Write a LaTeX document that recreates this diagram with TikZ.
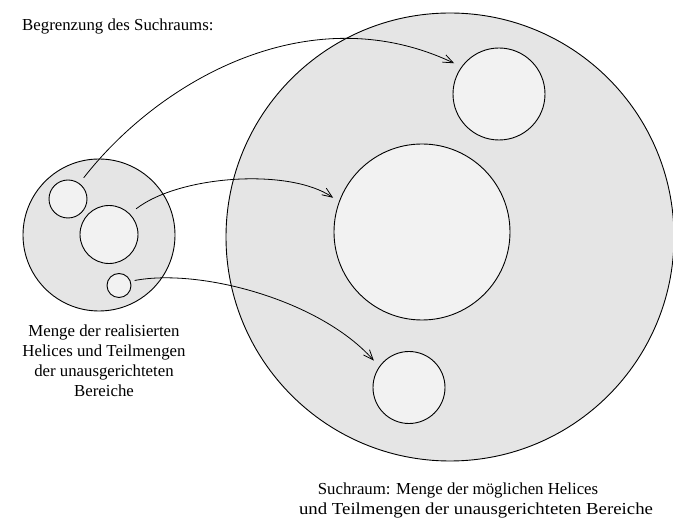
\documentclass[tikz,border=0pt]{standalone}
\usepackage{fontspec}
\setmainfont{Liberation Serif}
\usetikzlibrary{arrows.meta}

\begin{document}
\begin{tikzpicture}[x=1pt,y=-1pt,
  region/.style={circle,draw,line width=0.9pt,fill=gray!20,inner sep=0pt},
  subset/.style={circle,draw,line width=0.9pt,fill=gray!10,inner sep=0pt},
  lbl/.style={inner sep=0pt,font=\fontsize{16.8}{20}\selectfont},
  conn/.style={line width=0.8pt,-{Straight Barb[length=10pt,width=8pt]}}]
\useasboundingbox (0,0) rectangle (673,518);

% search space and its bounded parts
\node[region,minimum size=448pt] (space) at (450,237) {};
\node[subset,minimum size=92pt]  (t1) at (499,94) {};
\node[subset,minimum size=176pt] (t2) at (422,232) {};
\node[subset,minimum size=72pt]  (t3) at (409,387.5) {};

% realised helices and subsets
\node[region,minimum size=152pt] (set) at (99,235) {};
\node[subset,minimum size=38pt] (a) at (68,199) {};
\node[subset,minimum size=58pt] (b) at (109,234.5) {};
\node[subset,minimum size=24pt] (c) at (119,285.5) {};

% labels (base of a multi-line node is its last line)
\node[lbl,anchor=base west] (title) at (22,31) {Begrenzung des Suchraums:};
\node[lbl,anchor=base,align=center] (setlbl) at (104,397)
  {Menge der realisierten\\Helices und Teilmengen\\der unausgerichteten\\Bereiche};
\node[lbl,anchor=base] (spacelbl1) at (458,495) {Suchraum: Menge der möglichen Helices};
\node[lbl,anchor=base] (spacelbl2) at (476,515)
  {\scalebox{1.12}[1]{und Teilmengen der unausgerichteten Bereiche}};

% mappings
\draw[conn,shorten <=7pt,shorten >=8pt] (a.54.5) .. controls (160,80) and (310,-5) .. (t1.144);
\draw[conn,shorten <=8pt,shorten >=7pt] (b.45.5) .. controls (180,175) and (290,168) .. (t2.160);
\draw[conn,shorten <=4pt,shorten >=8pt] (c.20) .. controls (200,268) and (320,300) .. (t3.145);
\end{tikzpicture}
\end{document}
